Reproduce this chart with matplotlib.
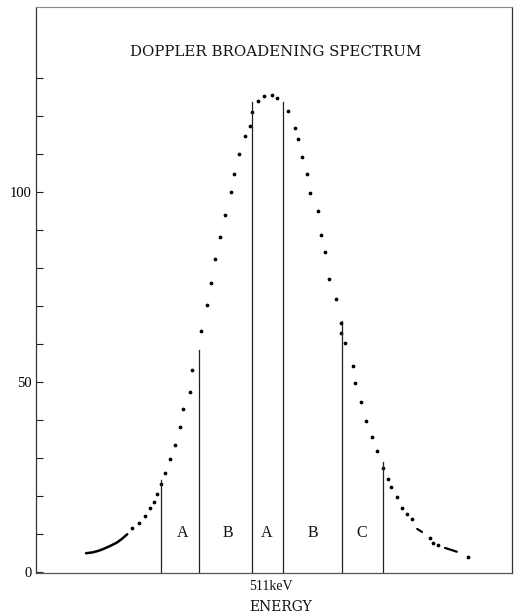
import matplotlib as mp
mp.use('Agg')
import matplotlib.pyplot as plt

# energy offset from 511 keV (arbitrary channel units) and counts
left_x = [-33.9, -32.2, -30.75, -29.5, -28.6, -27.8, -26.7, -25.7, -24.6, -23.25,
          -21.9, -21.2, -19.5, -18.9, -16.7, -15.2, -14.25, -13.25, -12.1, -10.75,
          -9.25, -8.4, -7.2, -5.75, -4.5, -3.9, -2.4, -0.9]
left_y = [11.5, 12.8, 14.6, 16.8, 18.5, 20.4, 23.1, 26.0, 29.7, 33.5,
          38.0, 42.8, 47.4, 53.2, 63.4, 70.3, 76.1, 82.4, 88.2, 93.8,
          100.1, 104.8, 110.1, 114.7, 117.4, 121.1, 124.0, 125.3]
right_x = [0.9, 2.2, 5.1, 6.7, 7.6, 8.6, 9.8, 10.6, 12.4, 13.3,
           14.3, 15.3, 17.0, 18.25, 18.2, 19.3, 21.2, 21.75, 23.25, 24.6,
           25.9, 27.25, 28.7, 29.9, 30.8, 32.25, 33.4, 34.7, 35.9, 40.5,
           41.3, 42.4, 50.0]
right_y = [125.5, 124.8, 121.4, 116.8, 114.0, 109.3, 104.7, 99.8, 95.1, 88.6,
           84.1, 77.1, 71.8, 65.5, 62.8, 60.3, 54.2, 49.8, 44.6, 39.8,
           35.6, 31.8, 27.4, 24.5, 22.4, 19.7, 16.9, 15.1, 13.9, 8.8,
           7.6, 7.0, 3.9]

# low energy tail where the points run together
tail_x = [-45.5, -44.0, -42.5, -41.2, -39.5, -37.8, -36.5, -35.2]
tail_y = [4.9, 5.1, 5.5, 6.0, 6.8, 7.7, 8.7, 9.9]
# short smeared runs on the high side
dash1_x = [37.3, 38.5]
dash1_y = [11.3, 10.5]
dash2_x = [44.25, 47.2]
dash2_y = [6.3, 5.3]

# window boundaries and their heights
bound_x = [-26.7, -17.25, -3.9, 3.7, 18.4, 28.7]
bound_top = [24.2, 58.4, 123.8, 123.8, 65.9, 28.8]

region_x = [-21.25, -10.0, -0.25, 11.25, 23.4]
region_lab = ['A', 'B', 'A', 'B', 'C']

yticks = [0, 10, 20, 30, 40, 50, 60, 70, 80, 90, 100, 110, 120, 130]
ylabels = ['0', '', '', '', '', '50', '', '', '', '', '100', '', '', '']

fig = plt.figure(figsize=(5.16, 6.15), dpi=100)
ax = fig.add_axes([0.0698, 0.0683, 0.9225, 0.9211])

ax.plot(left_x, left_y, ls='none', marker='o', ms=1.7, color='black')
ax.plot(right_x, right_y, ls='none', marker='o', ms=1.7, color='black')
ax.plot(tail_x, tail_y, color='black', lw=1.8, solid_capstyle='round')
ax.plot(dash1_x, dash1_y, color='black', lw=1.6, solid_capstyle='round')
ax.plot(dash2_x, dash2_y, color='black', lw=1.6, solid_capstyle='round')

for bx, bt in zip(bound_x, bound_top):
    ax.plot([bx, bx], [0, bt], color='#222222', lw=0.9)

for rx, rl in zip(region_x, region_lab):
    ax.text(rx, 10.3, rl, ha='center', va='center', fontsize=11.5,
            family='Liberation Serif', color='#111111')

ax.set_xlim(-58, 61)
ax.set_ylim(-0.3, 148.8)
ax.set_xticks([])
ax.set_yticks(yticks)
ax.set_yticklabels(ylabels, family='Liberation Serif', fontsize=10.5)
ax.tick_params(axis='y', direction='in', length=5, width=0.8, pad=3, color='#222222')

for side in ['left', 'right']:
    ax.spines[side].set_linewidth(0.9)
    ax.spines[side].set_color('#333333')
ax.spines['bottom'].set_linewidth(0.9)
ax.spines['bottom'].set_color('#555555')
ax.spines['top'].set_linewidth(0.8)
ax.spines['top'].set_color('#888888')

fig.text(0.534, 0.916, 'DOPPLER BROADENING SPECTRUM', ha='center', va='center',
         fontsize=10.8, family='DejaVu Serif', color='#111111')
fig.text(249 / 516, 1 - 587 / 615, '511keV', ha='left', va='center',
         fontsize=10, family='Liberation Serif', color='#111111')
fig.text(249 / 516, 1 - 607 / 615, 'ENERGY', ha='left', va='center',
         fontsize=10, family='DejaVu Serif', color='#111111')

fig.savefig('out.png', dpi=100)
